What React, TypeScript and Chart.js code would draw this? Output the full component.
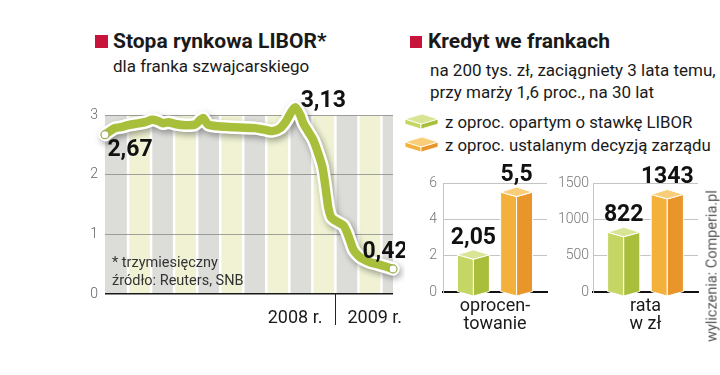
import React, { useEffect, useRef } from 'react';
import { Chart, registerables } from 'chart.js';
Chart.register(...registerables);

// ---- Data ----
const liborMonths = [0, 0.26, 0.52, 0.89, 1.2, 1.72, 2.09, 2.45, 2.76, 3.03, 3.29, 3.65, 4.17, 4.69, 4.96, 5.11, 5.37, 5.89, 6.42, 7.04, 7.82, 8.35, 8.71, 9.13, 9.44, 9.7, 9.91, 10.17, 10.33, 10.59, 10.85, 11.11, 11.32, 11.48, 11.63, 11.79, 12.15, 12.42, 12.62, 12.78, 12.94, 13.2, 13.46, 13.82, 14.19, 14.61, 15];
const liborValues = [2.67, 2.73, 2.78, 2.8, 2.83, 2.86, 2.88, 2.92, 2.9, 2.86, 2.88, 2.85, 2.83, 2.84, 2.92, 2.95, 2.84, 2.81, 2.8, 2.79, 2.78, 2.75, 2.73, 2.78, 2.9, 3.05, 3.13, 3.0, 2.86, 2.72, 2.58, 2.35, 2.13, 1.8, 1.45, 1.28, 1.2, 1.15, 1.02, 0.88, 0.74, 0.64, 0.58, 0.53, 0.5, 0.46, 0.42];
const yearLabels = ['2008 r.', '2009 r.'];
const yearBoundaryMonth = 12;
const liborYTicks = [0, 1, 2, 3];

const seriesNames = ['z oproc. opartym o stawkę LIBOR', 'z oproc. ustalanym decyzją zarządu'];
const rateCategory = [['oprocen-', 'towanie']];
const rateLibor = [2.05];
const rateBoard = [5.5];
const instalmentCategory = [['rata', 'w zł']];
const instalmentLibor = [822];
const instalmentBoard = [1343];

// ---- Styles ----
const SANS = "Roboto, 'DejaVu Sans', sans-serif";
const GREEN_LINE = '#a7bf3b';
const GREEN_FACES = { top: '#d9e594', left: '#c6d665', right: '#a9bf3c' };
const ORANGE_FACES = { top: '#f8cf78', left: '#f3b13c', right: '#e8962a' };
const RED = '#c8143a';

const fmt = (v: number) => String(v).replace('.', ',');

function LineChart() {
  const ref = useRef<HTMLCanvasElement>(null);
  useEffect(() => {
    const canvas = ref.current!;
    const pts = liborMonths.map((m, i) => ({ x: m, y: liborValues[i] }));
    const maxIdx = liborValues.indexOf(Math.max(...liborValues));
    const special = [0, maxIdx, liborValues.length - 1];

    const stripes = {
      id: 'stripes',
      beforeDraw(chart: any) {
        const { ctx, chartArea } = chart;
        const xs = chart.scales.x;
        const w = 1.2;
        ctx.save();
        for (let k = 0; k * w < xs.max; k++) {
          const a = k * w, b = Math.min((k + 1) * w, xs.max);
          const p0 = xs.getPixelForValue(a) + (k > 0 ? 1.25 : 0);
          const p1 = xs.getPixelForValue(b) - (b < xs.max ? 1.25 : 0);
          ctx.fillStyle = k % 2 === 0 ? '#dcdcd9' : '#f0f2d3';
          ctx.fillRect(p0, chartArea.top, p1 - p0, chartArea.bottom - chartArea.top);
        }
        ctx.restore();
      },
    };
    const shadow = {
      id: 'shadow',
      beforeDatasetDraw(chart: any, args: any) {
        if (args.index === 1) {
          const ctx = chart.ctx;
          ctx.save();
          ctx.shadowColor = 'rgba(0,0,0,0.35)';
          ctx.shadowBlur = 6;
          ctx.shadowOffsetX = 2;
          ctx.shadowOffsetY = 3;
        }
      },
      afterDatasetDraw(chart: any, args: any) {
        if (args.index === 1) chart.ctx.restore();
      },
    };
    const labels = {
      id: 'labels',
      afterDraw(chart: any) {
        const { ctx, chartArea } = chart;
        const xs = chart.scales.x, ys = chart.scales.y;
        ctx.save();
        ctx.fillStyle = '#111';
        ctx.font = `bold 23px ${SANS}`;
        ctx.textBaseline = 'middle';
        ctx.textAlign = 'center';
        const offs = [[25, 16], [28, -6], [-8, -17]];
        special.forEach((idx, j) => {
          const px = xs.getPixelForValue(liborMonths[idx]);
          const py = ys.getPixelForValue(liborValues[idx]);
          ctx.fillText(fmt(liborValues[idx]), px + offs[j][0], py + offs[j][1]);
        });
        // year divider
        const bx = xs.getPixelForValue(yearBoundaryMonth);
        ctx.strokeStyle = '#222';
        ctx.lineWidth = 1;
        ctx.beginPath();
        ctx.moveTo(Math.round(bx) + 0.5, chartArea.bottom);
        ctx.lineTo(Math.round(bx) + 0.5, chartArea.bottom + 31);
        ctx.stroke();
        ctx.font = `18px ${SANS}`;
        ctx.fillStyle = '#1a1a1a';
        ctx.textAlign = 'right';
        ctx.fillText(yearLabels[0], bx - 13, chartArea.bottom + 24);
        ctx.textAlign = 'left';
        ctx.fillText(yearLabels[1], bx + 12, chartArea.bottom + 24);
        ctx.restore();
      },
    };

    const chart = new Chart(canvas, {
      type: 'line',
      data: {
        datasets: [
          {
            data: pts,
            borderColor: GREEN_LINE,
            borderWidth: 8.5,
            tension: 0.25,
            clip: false as any,
            borderCapStyle: 'round',
            borderJoinStyle: 'round',
            pointRadius: (c: any) => (special.includes(c.dataIndex) ? 4 : 0),
            pointBackgroundColor: '#ffffff',
            pointBorderColor: (c: any) => (c.dataIndex === maxIdx ? '#ffffff' : '#9aab55'),
            pointBorderWidth: 1.2,
          },
          {
            data: pts,
            borderColor: '#ffffff',
            borderWidth: 13.5,
            tension: 0.25,
            clip: false as any,
            borderCapStyle: 'round',
            borderJoinStyle: 'round',
            pointRadius: 0,
          },
        ],
      } as any,
      options: {
        animation: false,
        responsive: false,
        events: [],
        layout: { padding: { top: 30, right: 12, bottom: 41, left: 0 } },
        plugins: { legend: { display: false }, tooltip: { enabled: false } },
        scales: {
          x: { type: 'linear', min: 0, max: 15, display: false },
          y: {
            min: 0,
            max: 3,
            afterBuildTicks: (s: any) => { s.ticks = liborYTicks.map((v) => ({ value: v })); },
            afterFit: (s: any) => { s.width = 30; },
            ticks: { color: '#666', padding: 7, font: { family: SANS, size: 14, weight: 300 as any } },
            grid: {
              drawTicks: false,
              color: (c: any) => (c.tick && c.tick.value === 0 ? '#1a1a1a' : '#8a8a8a'),
              lineWidth: (c: any) => (c.tick && c.tick.value === 0 ? 1.5 : 0.8),
            },
            border: { display: false },
          },
        },
      } as any,
      plugins: [stripes, shadow, labels],
    });
    return () => chart.destroy();
  }, []);
  return <canvas ref={ref} width={330} height={250} style={{ position: 'absolute', left: 75, top: 85, width: 330, height: 250 }} />;
}

function BarChart({ left, width, axisWidth, padRight, category, libor, board, max, step, tickPad }: any) {
  const ref = useRef<HTMLCanvasElement>(null);
  useEffect(() => {
    const canvas = ref.current!;
    const boxes = {
      id: 'boxes',
      afterDatasetsDraw(chart: any) {
        const ctx = chart.ctx;
        ctx.save();
        chart.data.datasets.forEach((ds: any, di: number) => {
          const meta = chart.getDatasetMeta(di);
          meta.data.forEach((el: any, i: number) => {
            const { x, y, base, width: w } = el.getProps(['x', 'y', 'base', 'width'], true);
            const h = w / 2, d = 5, f = 4.5;
            const faces = ds.faces;
            const poly = (p: number[][], color: string) => {
              ctx.beginPath();
              ctx.moveTo(p[0][0], p[0][1]);
              for (let k = 1; k < p.length; k++) ctx.lineTo(p[k][0], p[k][1]);
              ctx.closePath();
              ctx.fillStyle = color;
              ctx.fill();
              ctx.strokeStyle = '#ffffff';
              ctx.lineWidth = 1;
              ctx.stroke();
            };
            poly([[x - h, y], [x, y + f], [x, base + f], [x - h, base]], faces.left);
            poly([[x, y + f], [x + h, y], [x + h, base], [x, base + f]], faces.right);
            poly([[x - h, y], [x, y - d], [x + h, y], [x, y + f]], faces.top);
            ctx.fillStyle = '#111';
            ctx.font = `bold 23px ${SANS}`;
            ctx.textAlign = 'center';
            ctx.textBaseline = 'middle';
            ctx.fillText(fmt(ds.data[i]), x, y - 17);
          });
        });
        ctx.restore();
      },
    };
    const chart = new Chart(canvas, {
      type: 'bar',
      data: {
        labels: category,
        datasets: [
          { label: seriesNames[0], data: libor, backgroundColor: 'rgba(0,0,0,0)', borderWidth: 0, categoryPercentage: 0.83, barPercentage: 0.74, faces: GREEN_FACES },
          { label: seriesNames[1], data: board, backgroundColor: 'rgba(0,0,0,0)', borderWidth: 0, categoryPercentage: 0.83, barPercentage: 0.74, faces: ORANGE_FACES },
        ],
      } as any,
      options: {
        animation: false,
        responsive: false,
        events: [],
        layout: { padding: { top: 33, right: padRight, bottom: 0, left: 0 } },
        plugins: { legend: { display: false }, tooltip: { enabled: false } },
        scales: {
          x: {
            grid: { display: false, drawTicks: false },
            border: { display: true, color: '#111', width: 2 },
            ticks: { color: '#1a1a1a', padding: 5, font: { family: SANS, size: 18, lineHeight: 1.0 } },
            afterFit: (s: any) => { s.height = 48; },
          },
          y: {
            min: 0,
            max,
            ticks: { stepSize: step, color: '#777', padding: tickPad, callback: (v: any) => String(v), font: { family: SANS, size: 14, weight: 300 as any } },
            grid: { drawTicks: false, color: (c: any) => (c.tick && c.tick.value === 0 ? 'rgba(0,0,0,0)' : '#c4c4c4'), lineWidth: 1 },
            border: { display: true, color: '#c4c4c4', width: 1 },
            afterFit: (s: any) => { s.width = axisWidth; },
          },
        },
      } as any,
      plugins: [boxes],
    });
    return () => chart.destroy();
  }, []);
  return <canvas ref={ref} width={width} height={190} style={{ position: 'absolute', left, top: 150, width, height: 190 }} />;
}

const T = ({ x, y, size, text, weight = 400, color = '#1a1a1a', align = 'left' }: any) => {
  const style: any = {
    position: 'absolute', top: y - size * 0.6, fontSize: size, lineHeight: `${size * 1.2}px`,
    fontWeight: weight, color, whiteSpace: 'nowrap', fontFamily: SANS,
  };
  if (align === 'left') style.left = x;
  else { style.left = x; style.transform = 'translateX(-50%)'; }
  return <div style={style}>{text}</div>;
};

const Tile = ({ oy, faces }: any) => {
  const ox = 405;
  const pt = (a: number[][]) => a.map((p) => `${p[0]},${p[1]}`).join(' ');
  return (
    <>
      <polygon points={pt([[ox, oy + 5], [ox + 16, oy + 10], [ox + 16, oy + 15], [ox, oy + 10]])} fill={faces.left} stroke="#fff" strokeWidth={0.8} />
      <polygon points={pt([[ox + 16, oy + 10], [ox + 33, oy + 5], [ox + 33, oy + 10], [ox + 16, oy + 15]])} fill={faces.right} stroke="#fff" strokeWidth={0.8} />
      <polygon points={pt([[ox, oy + 5], [ox + 17, oy], [ox + 33, oy + 5], [ox + 16, oy + 10]])} fill={faces.top} stroke="#fff" strokeWidth={0.8} />
    </>
  );
};

export default function App() {
  return (
    <div style={{ position: 'absolute', left: 0, top: 0, width: 720, height: 375, background: '#fff', overflow: 'hidden', fontFamily: SANS }}>
      <div style={{ position: 'absolute', left: 95, top: 35, width: 13, height: 13, background: RED }} />
      <T x={113} y={42} size={21} weight={700} text="Stopa rynkowa LIBOR*" />
      <T x={113} y={66} size={17} text="dla franka szwajcarskiego" />

      <div style={{ position: 'absolute', left: 410, top: 36, width: 12, height: 12, background: RED }} />
      <T x={428} y={42} size={21} weight={700} text="Kredyt we frankach" />
      <T x={430} y={70} size={17} text="na 200 tys. zł, zaciągniety 3 lata temu," />
      <T x={430} y={92} size={17} text="przy marży 1,6 proc., na 30 lat" />

      <svg width={720} height={375} style={{ position: 'absolute', left: 0, top: 0 }}>
        <Tile oy={114} faces={GREEN_FACES} />
        <Tile oy={137} faces={ORANGE_FACES} />
      </svg>
      <T x={445} y={122} size={16.8} text={seriesNames[0]} />
      <T x={445} y={145} size={16.8} text={seriesNames[1]} />

      <LineChart />
      <T x={112} y={263} size={14.5} color="#333" text="* trzymiesięczny" />
      <T x={112} y={281} size={14.5} color="#333" text="źródło: Reuters, SNB" />

      <BarChart left={413} width={150} axisWidth={30} padRight={16} category={rateCategory} libor={rateLibor} board={rateBoard} max={6} step={2} tickPad={6} />
      <BarChart left={557} width={160} axisWidth={36} padRight={19} category={instalmentCategory} libor={instalmentLibor} board={instalmentBoard} max={1500} step={500} tickPad={4} />

      <div style={{ position: 'absolute', left: 712, top: 266, transform: 'translate(-50%,-50%) rotate(-90deg)', fontSize: 14.5, color: '#555', whiteSpace: 'nowrap', fontFamily: SANS }}>
        wyliczenia: Comperia.pl
      </div>
    </div>
  );
}
